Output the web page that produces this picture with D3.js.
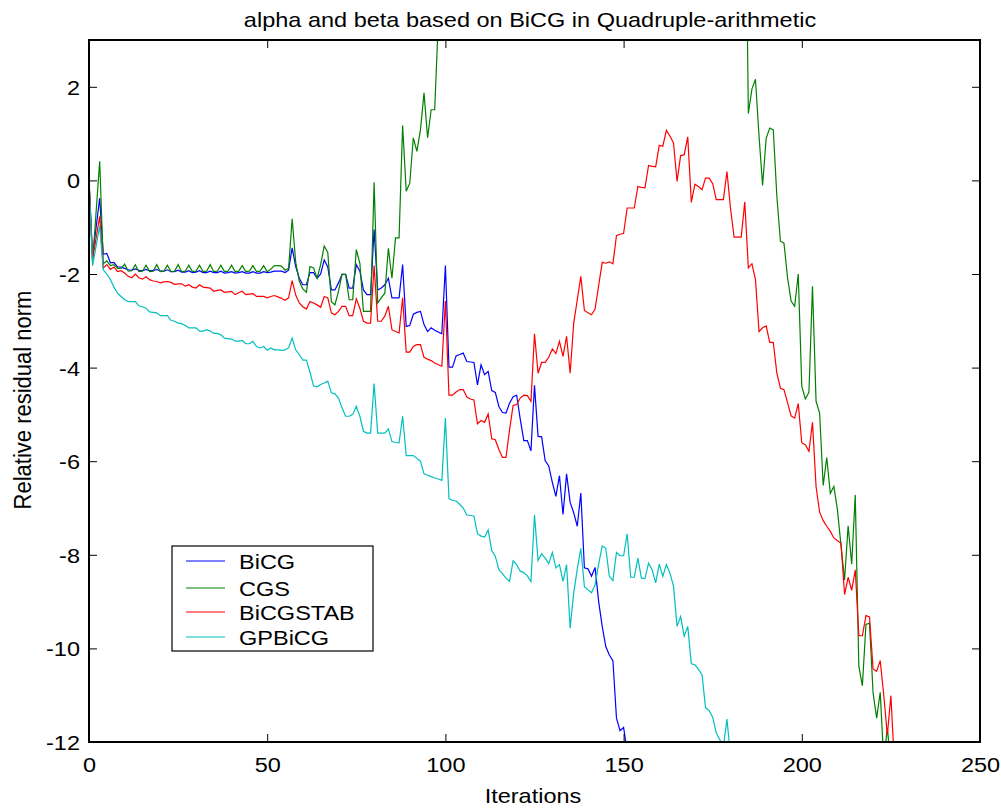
<!DOCTYPE html>
<html>
<head>
<meta charset="utf-8">
<script src="https://cdn.jsdelivr.net/npm/d3@7"></script>
<style>
  body { margin: 0; background: #fff; }
  text { font-family: "Liberation Sans", Arial, sans-serif; fill: #000; }
</style>
</head>
<body>
<div id="chart-area"></div>
<script>
// ---- data (log10 of relative residual norm, one value per iteration) ----
var titleText = 'alpha and beta based on BiCG in Quadruple-arithmetic';
var xTicks = [0, 50, 100, 150, 200, 250];
var yTicks = [-12, -10, -8, -6, -4, -2, 0, 2];
var names = ['BiCG', 'CGS', 'BiCGSTAB', 'GPBiCG'];
var colors = ['#0000ff', '#008000', '#ff0000', '#00bfbf'];

// iterations 0..151
var bicg = [
  0, -1.62, -1.0, -0.38, -1.58, -1.56, -1.76, -1.75, -1.85, -1.85,
  -1.88, -1.91, -1.92, -1.89, -1.92, -1.93, -1.90, -1.93, -1.93, -1.90,
  -1.94, -1.94, -1.91, -1.95, -1.95, -1.92, -1.96, -1.96, -1.93, -1.97,
  -1.96, -1.93, -1.97, -1.97, -1.94, -1.97, -1.97, -1.94, -1.98, -1.97,
  -1.95, -1.98, -1.97, -1.95, -1.98, -1.98, -1.95, -1.98, -1.98, -1.95,
  -1.97, -1.96, -1.94, -1.94, -1.94, -1.97, -1.92, -1.44, -1.84, -2.09,
  -2.23, -2.23, -1.97, -1.97, -2.09, -2.0, -1.70, -1.85, -2.34, -2.34,
  -2.19, -2.01, -2.01, -2.30, -2.30, -1.80, -1.94, -2.34, -2.44, -2.44,
  -1.05, -2.34, -2.30, -2.23, -2.09, -2.51, -2.51, -2.51, -1.80, -3.12,
  -3.10, -2.86, -2.82, -2.80, -3.08, -3.23, -3.15, -3.20, -3.24, -3.28,
  -1.82, -3.99, -3.99, -3.75, -3.72, -3.69, -3.87, -3.88, -3.89, -4.37,
  -3.94, -4.15, -4.08, -4.49, -4.53, -4.83, -4.96, -4.97, -4.76, -4.62,
  -4.59, -5.10, -5.56, -5.56, -5.78, -4.38, -5.47, -5.48, -5.99, -6.10,
  -6.45, -6.75, -6.31, -7.14, -6.27, -6.88, -7.10, -7.39, -6.68, -8.28,
  -8.30, -8.46, -8.27, -9.00, -9.53, -9.96, -10.14, -10.26, -11.49, -11.76,
  -11.69, -12.20
];

// CGS leaves the top of the axes after iteration 97 and comes back at 185
var cgsStartA = 0;
var cgsA = [
  0, -1.75, -0.67, 0.41, -1.78, -1.72, -1.82, -1.80, -1.88, -1.88,
  -1.79, -1.94, -1.93, -1.80, -1.95, -1.94, -1.81, -1.95, -1.94, -1.80,
  -1.95, -1.94, -1.81, -1.95, -1.94, -1.80, -1.95, -1.94, -1.81, -1.95,
  -1.94, -1.81, -1.95, -1.94, -1.80, -1.95, -1.94, -1.81, -1.95, -1.94,
  -1.81, -1.95, -1.94, -1.82, -1.95, -1.94, -1.82, -1.95, -1.94, -1.82,
  -1.95, -1.90, -1.82, -1.82, -1.83, -1.92, -1.88, -0.82, -1.75, -2.15,
  -2.32, -2.39, -1.84, -1.87, -2.09, -1.80, -1.40, -1.54, -2.59, -2.66,
  -2.37, -2.01, -2.01, -2.55, -2.55, -1.48, -1.77, -2.80, -2.80, -2.80,
  -0.04, -2.62, -2.51, -2.41, -1.45, -2.09, -1.23, -1.23, 1.17, -0.23,
  -0.06, 0.91, 0.62, 1.08, 1.87, 0.91, 1.51, 1.51, 3.40
];
var cgsStartB = 184;
var cgsB = [
  8.0, 1.43, 1.95, 2.16, 0.95, -0.11, 0.90, 1.12, 1.08, -0.34,
  -1.30, -1.34, -2.08, -2.58, -2.69, -2.00, -4.40, -4.67, -4.53, -2.26,
  -4.72, -4.97, -6.52, -5.92, -6.69, -6.54, -7.04, -7.80, -8.54, -7.38,
  -8.20, -6.72, -10.38, -10.80, -9.49, -9.46, -10.95, -11.49, -10.94, -12.40,
  -11.70, -12.50
];

// iterations 0..226
var bicgstab = [
  0, -1.69, -1.23, -0.77, -1.87, -1.80, -1.90, -1.85, -1.95, -1.93,
  -1.98, -2.05, -2.08, -2.00, -2.08, -2.11, -2.06, -2.12, -2.15, -2.16,
  -2.19, -2.17, -2.16, -2.18, -2.22, -2.21, -2.21, -2.26, -2.23, -2.28,
  -2.30, -2.23, -2.28, -2.29, -2.30, -2.37, -2.35, -2.34, -2.39, -2.38,
  -2.37, -2.44, -2.40, -2.37, -2.44, -2.43, -2.42, -2.48, -2.48, -2.48,
  -2.51, -2.48, -2.46, -2.49, -2.52, -2.56, -2.51, -2.14, -2.45, -2.62,
  -2.70, -2.75, -2.59, -2.62, -2.66, -2.71, -2.48, -2.51, -2.83, -2.87,
  -2.80, -2.69, -2.69, -2.89, -2.89, -2.53, -2.73, -3.01, -3.05, -3.05,
  -1.82, -3.01, -3.01, -2.90, -2.69, -3.19, -3.23, -3.26, -2.51, -3.67,
  -3.67, -3.55, -3.51, -3.51, -3.78, -3.82, -3.85, -3.90, -3.94, -3.97,
  -2.58, -4.59, -4.59, -4.52, -4.47, -4.47, -4.63, -4.67, -4.69, -5.20,
  -5.13, -5.17, -4.99, -5.52, -5.54, -5.75, -5.92, -5.92, -5.33, -4.81,
  -4.79, -4.65, -4.59, -4.60, -4.72, -3.28, -4.12, -3.89, -3.89, -3.78,
  -3.60, -3.70, -3.44, -3.76, -3.33, -4.12, -3.05, -2.55, -2.05, -2.78,
  -2.83, -2.87, -2.75, -2.25, -1.75, -1.77, -1.74, -1.78, -1.18, -1.15,
  -1.13, -0.59, -0.59, -0.59, -0.13, -0.15, -0.16, 0.32, 0.30, 0.29,
  0.75, 0.73, 1.07, 0.95, 0.80, -0.02, 0.53, 0.55, 0.93, -0.47,
  -0.08, -0.13, -0.20, 0.05, 0.05, -0.07, -0.41, -0.41, -0.41, 0.19,
  -0.60, -1.21, -1.21, -1.21, -0.46, -1.87, -1.78, -2.12, -3.23, -3.15,
  -3.11, -3.46, -3.46, -4.12, -4.44, -4.47, -4.75, -5.03, -5.08, -4.77,
  -5.61, -5.65, -5.79, -5.17, -6.54, -7.09, -7.27, -7.39, -7.50, -7.64,
  -7.70, -7.75, -8.85, -8.48, -8.76, -8.32, -9.73, -9.73, -9.30, -9.33,
  -10.44, -10.49, -10.26, -11.00, -11.85, -11.01, -12.50
];

// iterations 0..180
var gpbicg = [
  0, -1.82, -1.40, -0.98, -1.91, -2.00, -2.12, -2.28, -2.41, -2.48,
  -2.55, -2.59, -2.59, -2.59, -2.68, -2.70, -2.73, -2.81, -2.82, -2.83,
  -2.89, -2.89, -2.89, -2.99, -3.01, -3.05, -3.06, -3.10, -3.15, -3.15,
  -3.15, -3.22, -3.22, -3.19, -3.22, -3.27, -3.27, -3.30, -3.37, -3.38,
  -3.39, -3.43, -3.44, -3.42, -3.49, -3.49, -3.44, -3.55, -3.58, -3.55,
  -3.63, -3.58, -3.62, -3.62, -3.63, -3.62, -3.58, -3.37, -3.62, -3.72,
  -3.84, -3.84, -4.10, -4.39, -4.41, -4.36, -4.33, -4.29, -4.54, -4.56,
  -4.65, -4.86, -5.04, -5.04, -5.00, -4.83, -5.04, -5.36, -5.40, -5.40,
  -4.34, -5.40, -5.40, -5.40, -5.31, -5.58, -5.60, -5.61, -5.04, -5.88,
  -5.88, -5.88, -5.94, -6.00, -6.27, -6.30, -6.33, -6.36, -6.38, -6.41,
  -5.08, -6.80, -6.84, -6.85, -6.92, -7.00, -7.15, -7.16, -7.17, -7.55,
  -7.60, -7.62, -7.47, -7.91, -8.03, -8.32, -8.40, -8.50, -8.57, -8.13,
  -8.21, -8.35, -8.38, -8.45, -8.57, -7.15, -8.12, -7.98, -8.07, -8.19,
  -7.95, -8.28, -8.21, -8.57, -8.21, -9.57, -8.82, -8.30, -7.86, -8.68,
  -8.75, -8.81, -8.64, -8.20, -7.81, -7.86, -8.46, -8.55, -7.95, -8.02,
  -8.02, -7.55, -8.48, -8.48, -8.07, -8.50, -8.51, -8.18, -8.32, -8.60,
  -8.20, -8.46, -8.21, -8.39, -8.67, -9.53, -9.32, -9.74, -9.53, -10.33,
  -10.35, -10.45, -10.56, -11.27, -11.33, -11.47, -11.81, -11.95, -12.10, -11.51,
  -12.30
];

// ---- layout ----
var W = 1001, H = 808;
var plot = { left: 89, right: 980, top: 40, bottom: 742 };
var stretch = 1.12; // text in the reference is a little wider than tall

var svg = d3.select('#chart-area').append('svg')
    .attr('width', W)
    .attr('height', H)
    .style('display', 'block');

svg.append('rect').attr('width', W).attr('height', H).attr('fill', '#fff');

var x = d3.scaleLinear().domain([0, 250]).range([plot.left, plot.right]);
var y = d3.scaleLinear().domain([-12, 3]).range([plot.bottom, plot.top]);

svg.append('clipPath').attr('id', 'clip')
  .append('rect')
    .attr('x', plot.left).attr('y', plot.top)
    .attr('width', plot.right - plot.left)
    .attr('height', plot.bottom - plot.top);

function toPoints(values, start) {
  return values.map((v, i) => ({ it: start + i, v: v }));
}

var series = [
  { color: colors[0], parts: [toPoints(bicg, 0)] },
  { color: colors[1], parts: [toPoints(cgsA, cgsStartA), toPoints(cgsB, cgsStartB)] },
  { color: colors[2], parts: [toPoints(bicgstab, 0)] },
  { color: colors[3], parts: [toPoints(gpbicg, 0)] }
];

var line = d3.line().x(d => x(d.it)).y(d => y(d.v));

var lines = svg.append('g').attr('clip-path', 'url(#clip)');
series.forEach(s => {
  s.parts.forEach(p => {
    lines.append('path')
      .datum(p)
      .attr('d', line)
      .attr('fill', 'none')
      .attr('stroke', s.color)
      .attr('stroke-width', 1.2)
      .attr('stroke-linejoin', 'miter');
  });
});

// ---- axes (ticks point inward on all four sides) ----
var plain = d => String(d); // plain hyphen-minus, as in the reference

var xAxisBottom = svg.append('g')
    .attr('transform', `translate(0, ${plot.bottom})`)
    .call(d3.axisBottom(x).tickValues(xTicks).tickFormat(plain).tickSizeInner(-8).tickSizeOuter(0).tickPadding(0));
var yAxisLeft = svg.append('g')
    .attr('transform', `translate(${plot.left}, 0)`)
    .call(d3.axisLeft(y).tickValues(yTicks).tickFormat(plain).tickSizeInner(-8).tickSizeOuter(0).tickPadding(0));
var xAxisTop = svg.append('g')
    .attr('transform', `translate(0, ${plot.top})`)
    .call(d3.axisTop(x).tickValues(xTicks).tickSizeInner(-8).tickSizeOuter(0).tickFormat(''));
var yAxisRight = svg.append('g')
    .attr('transform', `translate(${plot.right}, 0)`)
    .call(d3.axisRight(y).tickValues(yTicks).tickSizeInner(-8).tickSizeOuter(0).tickFormat(''));

[xAxisBottom, yAxisLeft, xAxisTop, yAxisRight].forEach(a => {
  a.select('.domain').remove();
  a.selectAll('line').attr('stroke', '#000').attr('stroke-width', 1);
  a.attr('font-family', null).attr('font-size', null);
});

xAxisBottom.selectAll('text')
    .attr('y', 30)
    .attr('dy', null)
    .attr('font-size', '21px')
    .attr('transform', `scale(${stretch}, 1)`);

yAxisLeft.selectAll('text')
    .attr('x', -9 / stretch)
    .attr('dy', '0.36em')
    .attr('font-size', '21px')
    .attr('transform', `scale(${stretch}, 1)`);

svg.append('rect')
    .attr('x', plot.left).attr('y', plot.top)
    .attr('width', plot.right - plot.left)
    .attr('height', plot.bottom - plot.top)
    .attr('fill', 'none')
    .attr('stroke', '#000')
    .attr('stroke-width', 2);

// ---- labels ----
svg.append('text')
    .attr('transform', `translate(530, 27) scale(${stretch}, 1)`)
    .attr('text-anchor', 'middle')
    .attr('font-size', '21px')
    .text(titleText);

svg.append('text')
    .attr('transform', `translate(533, 803) scale(${stretch}, 1)`)
    .attr('text-anchor', 'middle')
    .attr('font-size', '21px')
    .text('Iterations');

svg.append('text')
    .attr('transform', `translate(31, 400) scale(${stretch}, 1) rotate(-90)`)
    .attr('text-anchor', 'middle')
    .attr('font-size', '22px')
    .text('Relative residual norm');

// ---- legend ----
var legend = svg.append('g').attr('transform', 'translate(172, 546)');
legend.append('rect')
    .attr('width', 201).attr('height', 105)
    .attr('fill', '#fff')
    .attr('stroke', '#000')
    .attr('stroke-width', 1.2);

var rowY = [15, 42, 66, 91];
names.forEach((n, i) => {
  legend.append('line')
      .attr('x1', 14).attr('x2', 53)
      .attr('y1', rowY[i]).attr('y2', rowY[i])
      .attr('stroke', colors[i])
      .attr('stroke-width', 1.2);
  legend.append('text')
      .attr('transform', `translate(67, ${rowY[i] + 8}) scale(${stretch}, 1)`)
      .attr('font-size', '21px')
      .text(n);
});
</script>
</body>
</html>
